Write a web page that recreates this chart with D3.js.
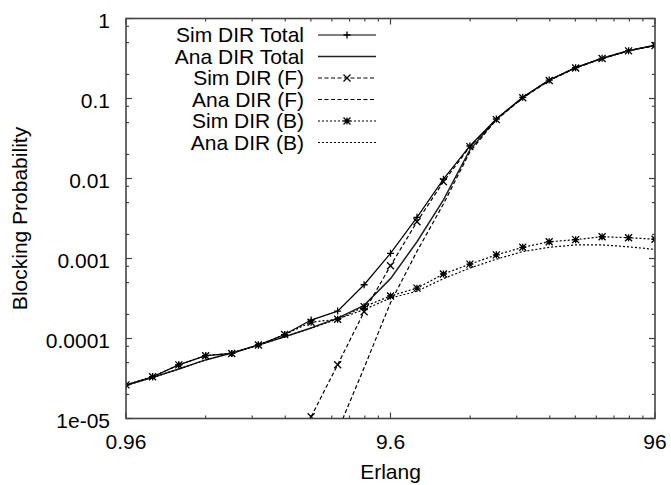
<!DOCTYPE html>
<html>
<head>
<meta charset="utf-8">
<script src="https://d3js.org/d3.v7.min.js"></script>
<style>
  body { margin: 0; background: #fff; }
  text { font-family: "Liberation Sans", Arial, sans-serif; fill: #000; }
</style>
</head>
<body>
<div id="graph"></div>
<script>
// offered load (Erlang), one point per tenth of a decade
var erlang = [0.96, 1.21, 1.52, 1.92, 2.41, 3.04, 3.82, 4.81, 6.06, 7.63, 9.6,
              12.09, 15.22, 19.16, 24.12, 30.36, 38.22, 48.11, 60.57, 76.26, 96]

var simTotal = [2.63e-5, 3.33e-5, 4.68e-5, 6.1e-5, 6.5e-5, 8.3e-5, 1.12e-4, 1.7e-4, 2.2e-4, 4.7e-4, 1.16e-3,
                3.27e-3, 9.8e-3, 0.0255, 0.0554, 0.1035, 0.17, 0.243, 0.318, 0.396, 0.462]
var anaTotal = [2.6e-5, 3.25e-5, 4.15e-5, 5.4e-5, 6.6e-5, 8.3e-5, 1.05e-4, 1.35e-4, 1.8e-4, 2.6e-4, 5.6e-4,
                1.62e-3, 5.4e-3, 0.0228, 0.0554, 0.1035, 0.17, 0.243, 0.318, 0.396, 0.462]
var simF = [null, null, null, null, null, null, null, 1.05e-5, 4.7e-5, 2.16e-4, 8.1e-4,
            2.88e-3, 9.1e-3, 0.025, 0.0544, 0.102, 0.168, 0.241, 0.316, 0.394, 0.46]
var anaF = [null, null, null, null, null, null, null, null, 7e-6, 4.3e-5, 2.8e-4,
            1.23e-3, 4.8e-3, 0.0215, 0.0544, 0.102, 0.168, 0.241, 0.316, 0.394, 0.46]
var simB = [2.63e-5, 3.33e-5, 4.68e-5, 6.1e-5, 6.5e-5, 8.3e-5, 1.12e-4, 1.6e-4, 1.74e-4, 2.5e-4, 3.4e-4,
            4.26e-4, 6.4e-4, 8.5e-4, 1.11e-3, 1.38e-3, 1.62e-3, 1.72e-3, 1.87e-3, 1.82e-3, 1.74e-3]
var anaB = [2.6e-5, 3.25e-5, 4.15e-5, 5.4e-5, 6.6e-5, 8.3e-5, 1.05e-4, 1.35e-4, 1.75e-4, 2.3e-4, 3.2e-4,
            3.9e-4, 5.6e-4, 7.6e-4, 9.8e-4, 1.22e-3, 1.38e-3, 1.48e-3, 1.48e-3, 1.4e-3, 1.3e-3]

var xTicks = [0.96, 9.6, 96]
var xTickLabels = ['0.96', '9.6', '96']
var yTicks = [1e-5, 1e-4, 1e-3, 1e-2, 0.1, 1]
var yTickLabels = ['1e-05', '0.0001', '0.001', '0.01', '0.1', '1']

var series = [
  {name: 'Sim DIR Total', values: simTotal, dash: null, marker: 'plus', stroke: '#000', width: 1.2},
  {name: 'Ana DIR Total', values: anaTotal, dash: null, marker: null, stroke: '#222', width: 1.5},
  {name: 'Sim DIR (F)', values: simF, dash: '4,2.5', marker: 'cross', stroke: '#000', width: 1.2},
  {name: 'Ana DIR (F)', values: anaF, dash: '4,2.5', marker: null, stroke: '#000', width: 1.2},
  {name: 'Sim DIR (B)', values: simB, dash: '2,2', marker: 'star', stroke: '#000', width: 1.2},
  {name: 'Ana DIR (B)', values: anaB, dash: '2,2', marker: null, stroke: '#000', width: 1.2}
]

var W = 671, H = 485
var m = {left: 126, right: 16, top: 18.5, bottom: 66.5}
var width = W - m.left - m.right, height = H - m.top - m.bottom
var fs = '21px'

var svg = d3.select('#graph').append('svg')
    .attr('width', W).attr('height', H)
var g = svg.append('g').attr('transform', 'translate(' + m.left + ',' + m.top + ')')

var x = d3.scaleLog().domain([0.96, 96]).range([0, width])
var y = d3.scaleLog().domain([1e-5, 1]).range([height, 0])

// minor ticks
var xMinor = [], yMinor = []
xTicks.slice(0, -1).forEach(function(t){ [2,3,4,5,6,7,8,9].forEach(function(k){ xMinor.push(t*k) }) })
yTicks.slice(0, -1).forEach(function(t){ [2,5,8].forEach(function(k){ yMinor.push(t*k) }) })

var tickCol = '#444'
function vTicks(vals, len){
  vals.forEach(function(v){
    g.append('line').attr('x1', x(v)).attr('x2', x(v)).attr('y1', height).attr('y2', height - len)
      .attr('stroke', tickCol).attr('stroke-width', 1.2)
    g.append('line').attr('x1', x(v)).attr('x2', x(v)).attr('y1', 0).attr('y2', len)
      .attr('stroke', tickCol).attr('stroke-width', 1.2)
  })
}
function hTicks(vals, len){
  vals.forEach(function(v){
    g.append('line').attr('x1', 0).attr('x2', len).attr('y1', y(v)).attr('y2', y(v))
      .attr('stroke', tickCol).attr('stroke-width', 1.2)
    g.append('line').attr('x1', width).attr('x2', width - len).attr('y1', y(v)).attr('y2', y(v))
      .attr('stroke', tickCol).attr('stroke-width', 1.2)
  })
}
vTicks(xMinor, 3); vTicks(xTicks, 6)
hTicks(yMinor, 3); hTicks(yTicks, 6)

g.selectAll('text.xl').data(xTicks).enter().append('text')
    .attr('x', function(d){ return x(d) }).attr('y', height + 30)
    .attr('text-anchor', 'middle').style('font-size', fs)
    .text(function(d, i){ return xTickLabels[i] })

g.selectAll('text.yl').data(yTicks).enter().append('text')
    .attr('x', -16).attr('y', function(d){ return y(d) + 9 })
    .attr('text-anchor', 'end').style('font-size', fs)
    .text(function(d, i){ return yTickLabels[i] })

g.append('text').attr('x', width/2).attr('y', height + 60)
    .attr('text-anchor', 'middle').style('font-size', fs).text('Erlang')
g.append('text').attr('transform', 'translate(' + (27 - m.left) + ',' + height/2 + ') rotate(-90)')
    .attr('text-anchor', 'middle').style('font-size', fs).text('Blocking Probability')

// clip lines to the frame
svg.append('clipPath').attr('id', 'clip').append('rect')
    .attr('x', m.left).attr('y', m.top).attr('width', width).attr('height', height)
var plot = g.append('g').attr('clip-path', 'url(#clip)')
    .attr('transform', 'translate(' + (-m.left) + ',' + (-m.top) + ')')
    .append('g').attr('transform', 'translate(' + m.left + ',' + m.top + ')')

function drawMarker(sel, type, cx, cy){
  var s = 3.5, p = ''
  if (type == 'plus' || type == 'star') p += 'M' + (cx-s) + ',' + cy + 'h' + 2*s + 'M' + cx + ',' + (cy-s) + 'v' + 2*s
  if (type == 'cross' || type == 'star') p += 'M' + (cx-s) + ',' + (cy-s) + 'l' + 2*s + ',' + 2*s + 'M' + (cx-s) + ',' + (cy+s) + 'l' + 2*s + ',' + (-2*s)
  sel.append('path').attr('d', p).attr('stroke', '#000').attr('stroke-width', 1.3).attr('fill', 'none')
}

var line = d3.line()
    .defined(function(d){ return d[1] != null })
    .x(function(d){ return x(d[0]) })
    .y(function(d){ return y(d[1]) })

series.forEach(function(s){
  var pts = erlang.map(function(e, i){ return [e, s.values[i]] })
  plot.append('path').datum(pts).attr('d', line)
      .attr('fill', 'none').attr('stroke', s.stroke).attr('stroke-width', s.width)
      .attr('stroke-dasharray', s.dash)
  if (s.marker) pts.filter(function(d){ return d[1] != null }).forEach(function(d){
    drawMarker(plot, s.marker, x(d[0]), y(d[1]))
  })
})

// key
var key = svg.append('g')
series.forEach(function(s, i){
  var cy = 35 + i*21.5
  key.append('text').attr('x', 304).attr('y', cy + 7)
      .attr('text-anchor', 'end').style('font-size', fs).text(s.name)
  key.append('line').attr('x1', 318).attr('x2', 376).attr('y1', cy).attr('y2', cy)
      .attr('stroke', s.stroke).attr('stroke-width', s.width).attr('stroke-dasharray', s.dash)
  if (s.marker) drawMarker(key, s.marker, 347, cy)
})

// frame
g.append('rect').attr('width', width).attr('height', height)
    .attr('fill', 'none').attr('stroke', tickCol).attr('stroke-width', 1.6)
</script>
</body>
</html>
